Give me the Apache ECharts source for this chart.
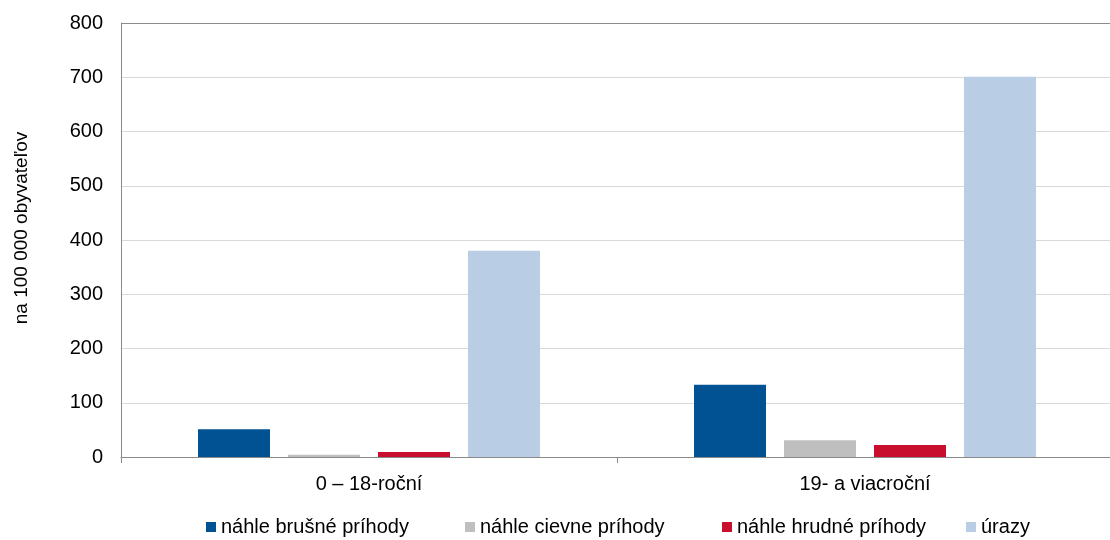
<!DOCTYPE html>
<html>
<head>
<meta charset="utf-8">
<script src="https://cdn.jsdelivr.net/npm/echarts@6/dist/echarts.min.js"></script>
<style>
  html, body { margin: 0; padding: 0; background: #fff; }
  #chart { width: 1110px; height: 540px; }
</style>
</head>
<body>
<div id="chart"></div>
<script>
var categories = ['0 – 18-roční', '19- a viacroční']
var seriesNames = ['náhle brušné príhody', 'náhle cievne príhody', 'náhle hrudné príhody', 'úrazy']
var brusne = [51, 133]
var cievne = [4, 31]
var hrudne = [9, 22]
var urazy = [380, 701]
var colors = ['#005293', '#bfbfbf', '#c8102e', '#b9cde5']
var yTicks = [0, 100, 200, 300, 400, 500, 600, 700, 800]

var font = 'Liberation Sans, Arial, sans-serif'
var chart = echarts.init(document.getElementById('chart'))

// last split line (800) is the darker top border
var splitColors = yTicks.map(function (v, i) {
  return i === yTicks.length - 1 ? '#8c8c8c' : '#d9d9d9'
})

function bar(i, data) {
  return {
    name: seriesNames[i],
    type: 'bar',
    data: data,
    barWidth: 72,
    barGap: '25%',
    itemStyle: { color: colors[i] }
  }
}

// excel style legend: fixed columns
var legendLeft = [206, 465, 722, 966]
var legends = seriesNames.map(function (name, i) {
  return {
    left: legendLeft[i],
    top: 517,
    padding: 0,
    itemWidth: 10,
    itemHeight: 10,
    icon: 'rect',
    textStyle: { fontSize: 20, color: '#000' },
    data: [name]
  }
})

chart.setOption({
  animation: false,
  textStyle: { fontFamily: font },
  grid: {
    left: 121,
    right: -3,
    top: 23,
    bottom: 83,
    outerBoundsMode: 'none'
  },
  legend: legends,
  xAxis: {
    type: 'category',
    data: categories,
    axisLine: { lineStyle: { color: '#898989' } },
    axisTick: { show: true, length: 6, lineStyle: { color: '#898989' } },
    axisLabel: { fontSize: 20, color: '#000', margin: 17 }
  },
  yAxis: {
    type: 'value',
    min: 0,
    max: 800,
    interval: 100,
    name: 'na 100 000 obyvateľov',
    nameLocation: 'middle',
    nameGap: 90,
    nameTextStyle: { fontSize: 19, color: '#000', padding: [0, 0, 0, 24] },
    axisLine: { show: true, lineStyle: { color: '#898989' } },
    axisTick: { show: false },
    axisLabel: { fontSize: 20, color: '#000', margin: 18 },
    splitLine: { lineStyle: { color: splitColors } }
  },
  series: [
    bar(0, brusne),
    bar(1, cievne),
    bar(2, hrudne),
    bar(3, urazy)
  ]
})
</script>
</body>
</html>
